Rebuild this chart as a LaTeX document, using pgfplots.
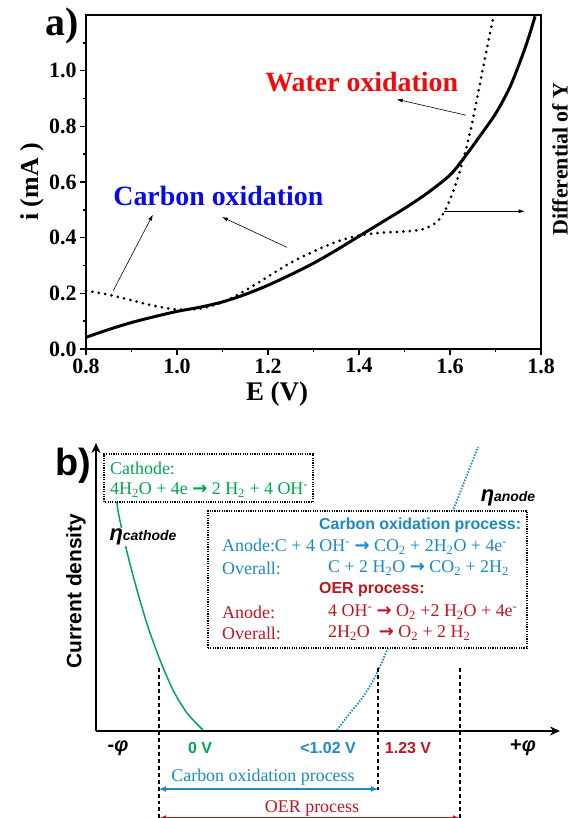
\documentclass[border=0pt]{standalone}
\usepackage{fontspec}
\setmainfont{Liberation Serif}
\setsansfont{Liberation Sans}
\newfontfamily\dejavu{DejaVu Sans}
\usepackage{pgfplots}
\pgfplotsset{compat=1.18}
\usetikzlibrary{arrows.meta}
\definecolor{cgreen}{RGB}{0,166,81}
\definecolor{cblue}{RGB}{27,138,193}
\definecolor{cred}{RGB}{192,20,30}
\definecolor{wred}{RGB}{240,10,10}
\definecolor{cblueA}{RGB}{10,10,230}
\newcommand{\fs}[1]{\fontsize{#1}{#1}\selectfont}
\newcommand{\arr}{{\dejavu\bfseries →}}
\newcommand{\sub}[1]{\textsubscript{#1}}
\newcommand{\sups}[1]{\textsuperscript{#1}}
\begin{document}
\begin{tikzpicture}[x=1bp,y=1bp]
\useasboundingbox (0,0) rectangle (574,818);
% ---------------- panel a ----------------
\begin{axis}[
  at={(86bp,469bp)}, anchor=south west,
  scale only axis, width=455bp, height=334bp,
  xmin=0.8, xmax=1.8, ymin=0, ymax=1.2,
  axis line style={line width=1.6pt},
  xtick pos=bottom, ytick pos=left, tick align=outside,
  xtick={0.8,1,1.2,1.4,1.6,1.8}, minor xtick={0.9,1.1,1.3,1.5,1.7},
  ytick={0,0.2,0.4,0.6,0.8,1.0}, minor ytick={0.1,0.3,0.5,0.7,0.9,1.1},
  major tick length=6bp, minor tick length=3.5bp,
  every tick/.style={black, line width=1.6pt},
  /pgf/number format/assume math mode=true,
  xticklabel style={/pgf/number format/.cd,fixed,fixed zerofill,precision=1},
  yticklabel style={/pgf/number format/.cd,fixed,fixed zerofill,precision=1},
  tick label style={font=\bfseries\fs{22}},
  xlabel={E (V)}, xlabel style={font=\bfseries\fs{27}, at={(axis cs:1.22,0)}, anchor=north, yshift=-29bp},
  ylabel={i (mA )}, ylabel style={font=\bfseries\fs{26}, yshift=-2bp},
  clip=false,
]
\addplot[black, line width=3pt, smooth] coordinates {
 (0.80,0.042) (0.85,0.070) (0.90,0.095) (0.95,0.116) (1.00,0.135) (1.05,0.150)
 (1.10,0.169) (1.15,0.196) (1.20,0.229) (1.25,0.267) (1.30,0.308) (1.35,0.355)
 (1.40,0.405) (1.45,0.455) (1.50,0.505) (1.55,0.560) (1.60,0.625) (1.63,0.685)
 (1.66,0.752) (1.70,0.845) (1.73,0.935) (1.75,1.015) (1.77,1.105) (1.787,1.195)};
\addplot[black, line width=3pt, dash pattern=on 0pt off 6.5pt, line cap=round, smooth] coordinates {
 (0.80,0.210) (0.85,0.195) (0.90,0.175) (0.95,0.155) (1.00,0.142) (1.05,0.145)
 (1.10,0.168) (1.15,0.210) (1.20,0.260) (1.25,0.310) (1.30,0.350) (1.35,0.385)
 (1.40,0.408) (1.45,0.418) (1.50,0.422) (1.54,0.430) (1.57,0.455) (1.59,0.500)
 (1.61,0.580) (1.63,0.685) (1.647,0.800) (1.663,0.930) (1.680,1.070) (1.695,1.190)};
\draw[-{Latex[length=6bp,width=4bp]}, line width=0.6pt] (axis cs:1.635,0.840) -- (axis cs:1.483,0.897);
\draw[-{Latex[length=6bp,width=4bp]}, line width=0.6pt] (axis cs:1.242,0.365) -- (axis cs:1.099,0.474);
\draw[-{Latex[length=6bp,width=4bp]}, line width=0.6pt] (axis cs:0.860,0.210) -- (axis cs:0.947,0.483);
\draw[-{Latex[length=6bp,width=4bp]}, line width=0.6pt] (axis cs:1.587,0.495) -- (axis cs:1.764,0.495);
\node[text=wred, font=\bfseries\fs{28}] at (axis cs:1.406,0.958) {Water oxidation};
\node[text=cblueA, font=\bfseries\fs{28}] at (axis cs:1.091,0.549) {Carbon oxidation};
\end{axis}
\node[font=\bfseries\fs{40}] at (62,792) {a)};
\node[font=\bfseries\fs{22}, rotate=90] at (560,659) {Differential of Y};
% ---------------- panel b ----------------
\begin{axis}[
  at={(96bp,87bp)}, anchor=south west,
  scale only axis, width=464bp, height=288bp,
  xmin=96, xmax=560, ymin=87, ymax=375,
  axis lines=left, ticks=none,
  axis line style={line width=1.6pt, -{Stealth[length=10bp,width=9bp]}},
  clip=false,
]
\addplot[cgreen, line width=1.5pt, smooth] coordinates {
 (115,330) (117,315) (119,302) (127,266) (137,228) (148,191) (160,158) (173,128) (187,105) (203,88)};
\addplot[cblue, line width=1.8pt, dash pattern=on 1.5pt off 1.5pt, smooth] coordinates {
 (337,88) (350,105) (363,121) (375,141) (385,163) (410,218) (435,268) (453,308) (465,338) (478,371)};
% boxes
\draw[black, line width=1.2pt, dash pattern=on 1.2pt off 1.2pt, fill=white] (104,316) rectangle (313,364);
\draw[black, line width=1.2pt, dash pattern=on 1.2pt off 1.2pt, fill=white] (208,170) rectangle (527,307);
\node[anchor=west, text=cgreen, font=\fs{18}, inner sep=0pt] at (110,350) {Cathode:};
\node[anchor=west, text=cgreen, font=\fs{18}, inner sep=0pt] at (110,328) {4H\sub{2}O + 4e \arr{} 2 H\sub{2} + 4 OH\sups{-}};
\node[fill=white, inner sep=1pt, font=\sffamily\bfseries\itshape\fs{22}] at (143,281) {η\fs{14}cathode};
\node[inner sep=1pt, font=\sffamily\bfseries\itshape\fs{22}] at (508,320) {η\fs{14}anode};
\node[anchor=west, text=cblue, font=\sffamily\bfseries\fs{16}, inner sep=0pt] at (319,293) {Carbon oxidation process:};
\node[anchor=west, text=cblue, font=\fs{18}, inner sep=0pt] at (222,271) {Anode:C + 4 OH\sups{-} \arr{} CO\sub{2} + 2H\sub{2}O + 4e\sups{-}};
\node[anchor=west, text=cblue, font=\fs{18}, inner sep=0pt] at (222,250) {Overall:};
\node[anchor=west, text=cblue, font=\fs{18}, inner sep=0pt] at (328,250) {C + 2 H\sub{2}O \arr{} CO\sub{2} + 2H\sub{2}};
\node[anchor=west, text=cred, font=\sffamily\bfseries\fs{16}, inner sep=0pt] at (319,228) {OER process:};
\node[anchor=west, text=cred, font=\fs{18}, inner sep=0pt] at (222,206) {Anode:};
\node[anchor=west, text=cred, font=\fs{18}, inner sep=0pt] at (328,206) {4 OH\sups{-} \arr{} O\sub{2} +2 H\sub{2}O + 4e\sups{-}};
\node[anchor=west, text=cred, font=\fs{18}, inner sep=0pt] at (222,185) {Overall:};
\node[anchor=west, text=cred, font=\fs{18}, inner sep=0pt] at (328,185) {2H\sub{2}O \ \arr{} O\sub{2} + 2 H\sub{2}};
% dashed verticals
\draw[black, line width=1.1pt, dash pattern=on 4pt off 3pt] (159,150) -- (159,-5);
\draw[black, line width=1.1pt, dash pattern=on 4pt off 3pt] (378,150) -- (378,28);
\draw[black, line width=1.1pt, dash pattern=on 4pt off 3pt] (460,150) -- (460,-5);
% labels on x axis
\node[font=\sffamily\bfseries\fs{20}] at (118,70) {-\textit{φ}};
\node[text=cgreen, font=\sffamily\bfseries\fs{16}] at (200,70) {0 V};
\node[text=cblue, font=\sffamily\bfseries\fs{16}] at (328,70) {<1.02 V};
\node[text=cred, font=\sffamily\bfseries\fs{16}] at (408,70) {1.23 V};
\node[font=\sffamily\bfseries\fs{20}] at (523,70) {+\textit{φ}};
\node[text=cblue, font=\fs{18}] at (263,41) {Carbon oxidation process};
\draw[cblue, line width=1.2pt, {Latex[length=7bp,width=6bp]}-{Latex[length=7bp,width=6bp]}] (159,29) -- (378,29);
\node[text=cred, font=\fs{18}] at (312,10) {OER process};
\draw[cred, line width=1.2pt, {Latex[length=7bp,width=6bp]}-{Latex[length=7bp,width=6bp]}] (159,0) -- (460,0);
\node[font=\sffamily\bfseries\fs{21}, rotate=90] at (76,227) {Current density};
\end{axis}
\node[font=\sffamily\bfseries\fs{38}] at (73,352) {b)};
\end{tikzpicture}
\end{document}
